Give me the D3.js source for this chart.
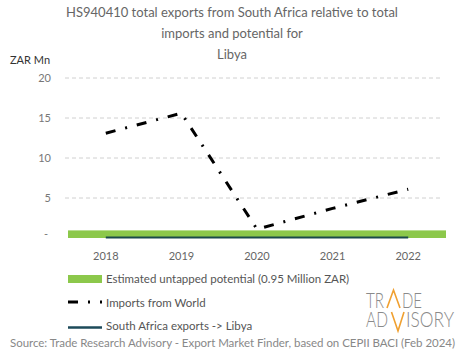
<!DOCTYPE html>
<html><head><meta charset="utf-8">
<script src="https://cdn.jsdelivr.net/npm/d3@7"></script>
<style>body{margin:0;background:#fff;} text{font-family:Lato, "Open Sans", sans-serif;}</style>
</head><body>
<svg id="c" width="465" height="359"></svg>
<script>
const years = ["2018","2019","2020","2021","2022"];
const importsWorld = [13.1, 15.6, 1.1, 3.7, 6.1];
const saExports = [0, 0, 0, 0, 0];
const untappedPotential = 0.95;
const yTicks = [0, 5, 10, 15, 20];
const titleLines = ["HS940410 total exports from South Africa relative to total", "imports and potential for", "Libya"];
const legendLabels = ["Estimated untapped potential (0.95 Million ZAR)", "Imports from World", "South Africa exports -> Libya"];
const sourceText = "Source: Trade Research Advisory - Export Market Finder, based on CEPII BACI (Feb 2024)";

const svg = d3.select("#c");
const green = "#8cc84b", dark = "#1b4a4c";
const x = d3.scaleBand().domain(years).range([68, 446]).padding(0);
const y = d3.scaleLinear().domain([0, 20]).range([238, 78]);
const cx = d => x(d) + x.bandwidth()/2;

// title
svg.append("g").selectAll("text").data(titleLines).join("text")
  .attr("x", 232).attr("y", (d,i)=>17 + i*21).attr("text-anchor","middle")
  .attr("font-size", 13).attr("fill", "#666").text(d=>d);

svg.append("text").attr("x", 10).attr("y", 64).attr("font-size", 11).attr("fill","#333").text("ZAR Mn");

// grid
svg.append("g").selectAll("line").data(yTicks.filter(t=>t>0)).join("line")
  .attr("x1", 65).attr("x2", 443).attr("y1", d=>y(d)).attr("y2", d=>y(d))
  .attr("stroke", "#d0d0d0").attr("stroke-dasharray", "4,3");

// y axis
const yAxis = d3.axisLeft(y).tickValues(yTicks).tickSize(0).tickPadding(0)
  .tickFormat(d => d === 0 ? "-" : d);
const ya = svg.append("g").attr("transform", "translate(51,0)").call(yAxis);
ya.select(".domain").remove();
ya.selectAll("text").attr("font-size", 11).attr("fill", "#777").attr("font-family","Lato, sans-serif");
ya.selectAll(".tick").filter(d=>d===0).select("text").attr("dy","-0.05em").attr("dx","-3");

// x axis
const xAxis = d3.axisBottom(x).tickSize(0).tickPadding(0);
const xa = svg.append("g").attr("transform", "translate(0,252.5)").call(xAxis);
xa.select(".domain").remove();
xa.selectAll("text").attr("font-size", 11).attr("fill", "#666").attr("font-family","Lato, sans-serif").attr("dy","0.71em");

// untapped potential band
svg.append("rect").attr("x", x(years[0])).attr("width", x.range()[1]-x.range()[0])
  .attr("y", y(untappedPotential)).attr("height", y(0)-y(untappedPotential)).attr("fill", green);

// SA exports line
svg.append("path").datum(saExports)
  .attr("d", d3.line().x((d,i)=>cx(years[i])).y(d=>y(d)-0.5))
  .attr("fill","none").attr("stroke", dark).attr("stroke-width", 2);

// imports line
svg.append("path").datum(importsWorld)
  .attr("d", d3.line().x((d,i)=>cx(years[i])).y(d=>y(d)))
  .attr("fill","none").attr("stroke", "#000").attr("stroke-width", 3)
  .attr("stroke-dasharray", "10,10,2,10");

// legend
const lg = svg.append("g");
lg.append("rect").attr("x", 68).attr("y", 275).attr("width", 34).attr("height", 8).attr("fill", green);
lg.append("line").attr("x1", 68).attr("x2", 102).attr("y1", 302).attr("y2", 302)
  .attr("stroke","#000").attr("stroke-width",3).attr("stroke-dasharray","10,10,2,10");
lg.append("line").attr("x1", 68).attr("x2", 102).attr("y1", 327.5).attr("y2", 327.5)
  .attr("stroke","#1d4a5a").attr("stroke-width",2.5);
lg.selectAll("text").data(legendLabels).join("text")
  .attr("x", 106).attr("y", (d,i)=>283 + i*23.5).attr("font-size", 11.5).attr("fill","#555").text(d=>d);

// logo
const logo = svg.append("g").attr("font-family","Roboto, sans-serif").attr("font-weight",300).attr("fill","#8a8a8a").attr("font-size",21);
const logoParts = [["TR",366,308,18],["DE",402,308,20],["AD",366,327,22],["ISORY",406,327,48]];
logo.selectAll("text").data(logoParts).join("text")
  .attr("x", d=>d[1]).attr("y", d=>d[2]).attr("textLength", d=>d[3]).attr("lengthAdjust","spacingAndGlyphs").text(d=>d[0]);
logo.append("path").attr("d","M387,308 L393.5,290 L400,308")
  .attr("fill","none").attr("stroke","#f0a030").attr("stroke-width",1.6);
logo.append("path").attr("d","M391.5,312 L398,331 L404,312")
  .attr("fill","none").attr("stroke","#f0a030").attr("stroke-width",1.6);

// source
svg.append("text").attr("x", 10).attr("y", 347).attr("font-size", 11.5).attr("fill","#888")
  .attr("textLength", 445).text(sourceText);
</script>
</body></html>
